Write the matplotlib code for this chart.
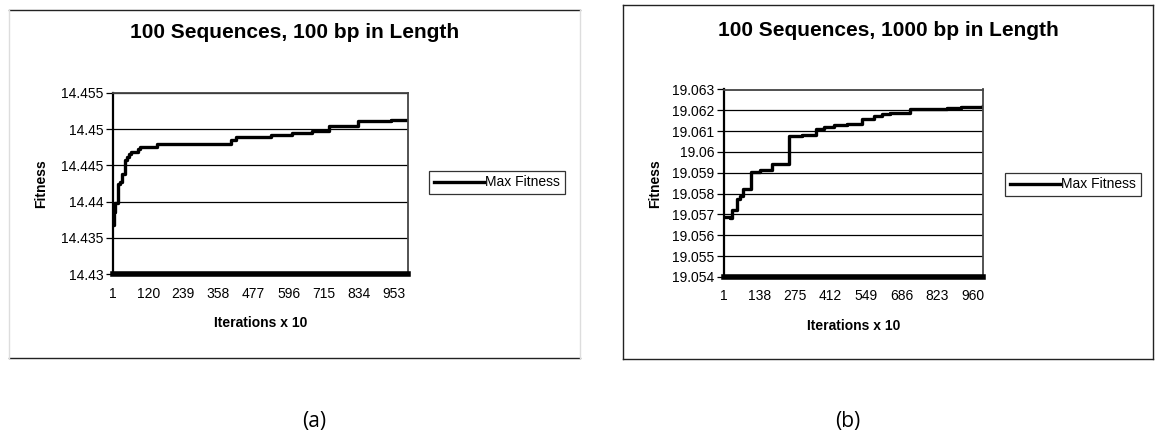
import matplotlib
matplotlib.use("Agg")
import matplotlib.pyplot as plt
from matplotlib.lines import Line2D

plt.rcParams.update({"font.family": ["Liberation Sans", "DejaVu Sans"], "font.size": 10})

# panel (a): 100 sequences, 100 bp  (step changes of max fitness)
a_iter = [1, 5, 9, 18, 24, 31, 41, 47, 54, 63, 86, 93, 151, 400, 418, 536, 606, 674, 731, 831, 943, 1000]
a_fit = [14.4368, 14.4385, 14.4398, 14.4424, 14.4427, 14.4438, 14.4458, 14.4461, 14.4466, 14.4468,
         14.4473, 14.4476, 14.4480, 14.4485, 14.4489, 14.4492, 14.4495, 14.4497, 14.4505, 14.4511,
         14.4513, 14.4513]
a_xticks = [1, 120, 239, 358, 477, 596, 715, 834, 953]
a_yticks = [14.43, 14.435, 14.44, 14.445, 14.45, 14.455]

# panel (b): 100 sequences, 1000 bp
b_iter = [1, 25, 33, 52, 62, 75, 105, 140, 185, 250, 300, 355, 385, 425, 475, 535, 580, 612, 640,
          720, 860, 915, 1000]
b_fit = [19.0569, 19.05685, 19.0572, 19.05775, 19.0579, 19.0582, 19.05905, 19.05915, 19.0594,
         19.06075, 19.0608, 19.0611, 19.0612, 19.06128, 19.06135, 19.0616, 19.06172, 19.06182,
         19.06188, 19.06205, 19.0621, 19.06218, 19.06222]
b_xticks = [1, 138, 275, 412, 549, 686, 823, 960]
b_yticks = [19.054, 19.055, 19.056, 19.057, 19.058, 19.059, 19.06, 19.061, 19.062, 19.063]

W, H = 1155, 443
fig = plt.figure(figsize=(W / 100, H / 100), dpi=100)


def fx(px): return px / W
def fy(py): return 1 - py / H


def panel(box, frame, title, tx, ty, iters, fit, xticks, yticks, ylab_x, leg, sides=True):
    x0, y0, x1, y1 = frame
    edge = "#222222" if sides else "#dddddd"
    for xs, ys, c in [((x0, x1), (y0, y0), "#222222"), ((x0, x1), (y1, y1), "#222222"),
                      ((x0, x0), (y0, y1), edge), ((x1, x1), (y0, y1), edge)]:
        fig.add_artist(Line2D([fx(xs[0]), fx(xs[1])], [fy(ys[0]), fy(ys[1])], color=c, lw=1.0))
    l, t, r, b = box
    ax = fig.add_axes([fx(l), fy(b), fx(r) - fx(l), fy(t) - fy(b)])
    ax.step(iters, fit, where="post", color="black", lw=2.4, label="Max Fitness")
    ax.set_xlim(1, 1000)
    ax.set_ylim(yticks[0], yticks[-1])
    ax.set_yticks(yticks)
    ax.set_yticklabels([f"{v:g}" for v in yticks])
    ax.set_xticks(xticks)
    ax.tick_params(axis="x", length=0, pad=9)
    ax.tick_params(axis="y", length=5, width=0.9, pad=2)
    ax.grid(axis="y", color="black", lw=0.9)
    ax.set_axisbelow(True)
    for s in ("top", "right"):
        ax.spines[s].set_color("#444444"); ax.spines[s].set_linewidth(1.3)
    ax.spines["left"].set_linewidth(1.6)
    ax.spines["bottom"].set_linewidth(4.0)
    ax.set_xlabel("Iterations x 10", fontweight="bold", labelpad=11)
    ax.set_ylabel("Fitness", fontweight="bold")
    ax.yaxis.set_label_coords((fx(ylab_x) - fx(l)) / (fx(r) - fx(l)), 0.5)
    fig.text(fx(tx), fy(ty), title, ha="center", va="center", fontsize=15, fontweight="bold")
    lg = ax.legend(loc="center left", bbox_to_anchor=(fx(leg[0]), fy(leg[1])),
                   bbox_transform=fig.transFigure, frameon=True, fancybox=False,
                   handlelength=3.6, handletextpad=0.1, borderpad=0.35, borderaxespad=0)
    lg.get_frame().set_edgecolor("black"); lg.get_frame().set_linewidth(0.9)
    return ax


panel((113, 93, 408, 274), (9, 10, 580, 358), "100 Sequences, 100 bp in Length", 295, 33,
      a_iter, a_fit, a_xticks, a_yticks, 48, (429, 182.5), sides=False)
panel((724, 89.5, 983, 277), (623, 5, 1153, 359), "100 Sequences, 1000 bp in Length", 888, 31,
      b_iter, b_fit, b_xticks, b_yticks, 662, (1005, 184.5))

fig.text(fx(314), fy(422), "(a)", ha="center", va="center", fontsize=15, family="Open Sans")
fig.text(fx(848), fy(422), "(b)", ha="center", va="center", fontsize=15, family="Open Sans")

fig.savefig("out.png", dpi=100)
